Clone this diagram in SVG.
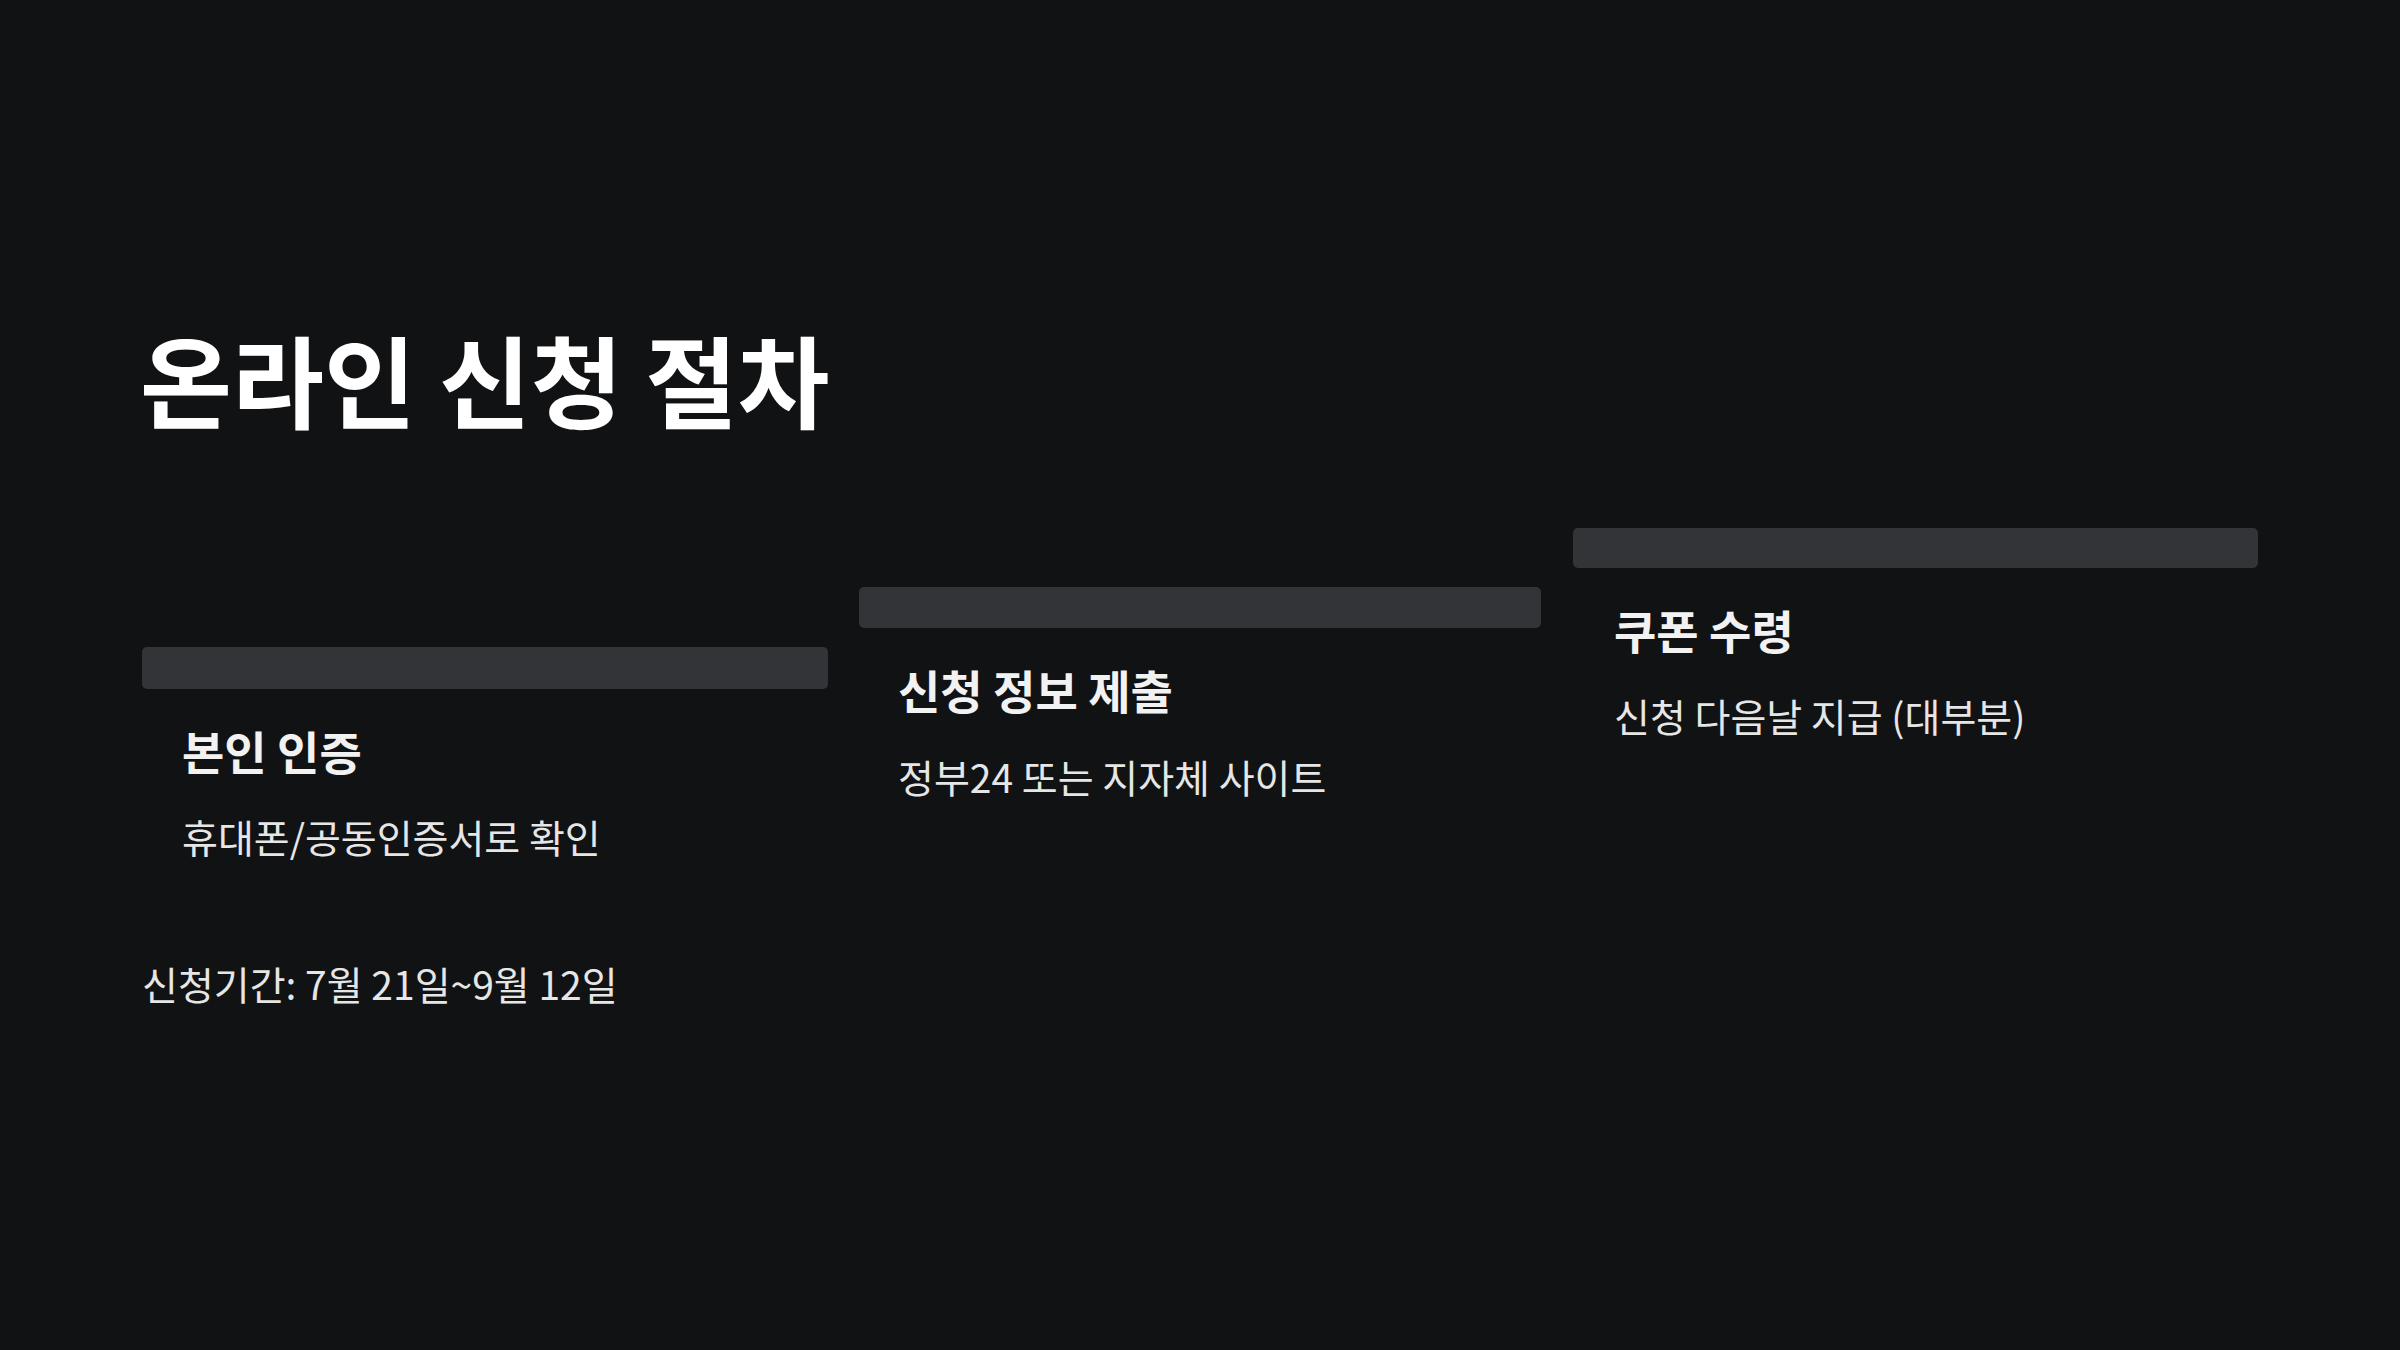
<svg xmlns="http://www.w3.org/2000/svg" width="2400" height="1350" viewBox="0 0 2400 1350">
<style>
text{font-family:"Noto Sans CJK KR","Noto Sans",sans-serif;fill:#f2f2f2}
.t{font-size:100px;font-weight:700;fill:#fff}
.h{font-size:46px;font-weight:700}
.d{font-size:39px;font-weight:400;fill:#e6e6e6}
.bar{fill:#333437}
</style>
<rect width="2400" height="1350" fill="#111214"/>
<text class="t" x="140" y="421">온라인 신청 절차</text>
<g id="step1"><rect class="bar" x="142" y="647" width="686" height="42" rx="5"/><text class="h" x="182" y="770">본인 인증</text><text class="d" x="182" y="853">휴대폰/공동인증서로 확인</text></g>
<g id="step2"><rect class="bar" x="859" y="587" width="682" height="41" rx="5"/><text class="h" x="898" y="709">신청 정보 제출</text><text class="d" x="898" y="793">정부24 또는 지자체 사이트</text></g>
<g id="step3"><rect class="bar" x="1573" y="528" width="685" height="40" rx="5"/><text class="h" x="1614" y="649">쿠폰 수령</text><text class="d" x="1614" y="732">신청 다음날 지급 (대부분)</text></g>
<g id="connectors"/>
<text class="d" x="142" y="1000">신청기간: 7월 21일~9월 12일</text>
</svg>
